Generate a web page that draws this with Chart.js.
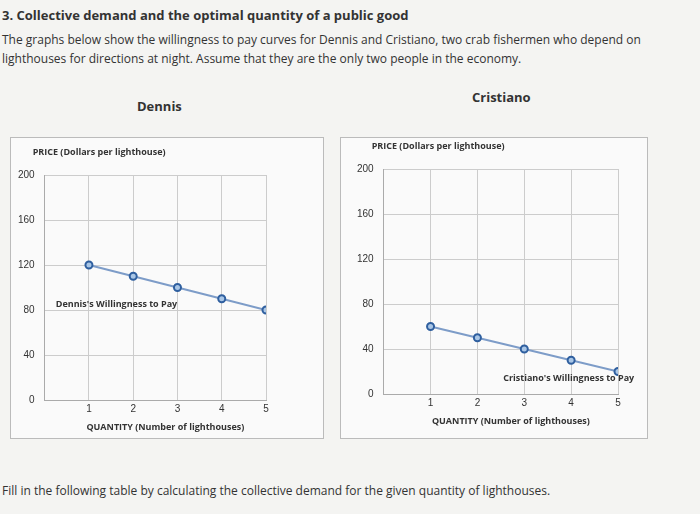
<!DOCTYPE html>
<html><head><meta charset="utf-8">
<script src="https://cdn.jsdelivr.net/npm/chart.js@4"></script>
<style>
body{margin:0;width:700px;height:514px;background:#f4f4f2;font-family:"Open Sans",sans-serif;color:#333;position:relative;overflow:hidden}
.t{position:absolute;white-space:nowrap}
.box{position:absolute;border:1px solid #bbb;background:#fafafa}
canvas{position:absolute}
</style></head><body>
<div class="t" style="left:2px;top:6px;font-size:13px;font-weight:bold">3. Collective demand and the optimal quantity of a public good</div>
<div class="t" style="left:2px;top:30px;font-size:12px;line-height:19px">The graphs below show the willingness to pay curves for Dennis and Cristiano, two crab fishermen who depend on<br>lighthouses for directions at night. Assume that they are the only two people in the economy.</div>
<div class="t" style="left:137px;top:97px;font-size:13px;font-weight:bold">Dennis</div>
<div class="t" style="left:472px;top:88px;font-size:13px;font-weight:bold">Cristiano</div>
<div class="box" style="left:10px;top:137px;width:312px;height:300px"></div>
<div class="box" style="left:340px;top:137px;width:306px;height:300px"></div>
<canvas id="cD" style="left:0px;top:138px" width="322" height="299"></canvas>
<canvas id="cC" style="left:333px;top:138px" width="313" height="299"></canvas>
<div class="t" style="left:2px;top:482px;font-size:12px">Fill in the following table by calculating the collective demand for the given quantity of lighthouses.</div>
<script>
const quantities = [1, 2, 3, 4, 5];
const dennisWTP = [120, 110, 100, 90, 80];
const cristianoWTP = [60, 50, 40, 30, 20];
const priceTicks = [0, 40, 80, 120, 160, 200];

function makeChart(id, values, label, labelAt, pad) {
  const notes = {
    id: 'notes',
    afterDraw(c) {
      const ctx = c.ctx, x = c.scales.x, y = c.scales.y;
      ctx.save();
      ctx.fillStyle = '#333';
      ctx.font = 'bold 9px "Open Sans"';
      ctx.textAlign = 'left';
      ctx.fillText('PRICE (Dollars per lighthouse)', x.left - 12, y.top - 20);
      ctx.textAlign = 'center';
      ctx.fillText('QUANTITY (Number of lighthouses)', (x.left + x.right) / 2 + 10, y.bottom + 30);
      ctx.textAlign = 'left';
      ctx.fillText(label, x.getPixelForValue(labelAt[0]), y.getPixelForValue(labelAt[1]));
      ctx.restore();
    }
  };
  new Chart(document.getElementById(id), {
    type: 'line',
    data: { datasets: [{
      data: quantities.map((q, i) => ({ x: q, y: values[i] })),
      borderColor: '#7d9cc8', borderWidth: 2,
      pointBackgroundColor: '#a9c6e6', pointBorderColor: '#2f5f9f',
      pointBorderWidth: 2, pointRadius: 3.5
    }] },
    options: {
      responsive: false, animation: false,
      layout: { padding: pad },
      plugins: { legend: { display: false }, tooltip: { enabled: false } },
      scales: {
        x: { type: 'linear', min: 0, max: 5,
          ticks: { stepSize: 1, color: '#333', font: { size: 10 }, callback: v => v === 0 ? '' : v },
          grid: { color: '#ccc', drawTicks: false }, border: { color: '#aaa' } },
        y: { min: 0, max: 200, afterBuildTicks: s => { s.ticks = priceTicks.map(v => ({ value: v })); },
          ticks: { color: '#333', font: { size: 10 }, padding: 10 },
          grid: { color: '#ccc', drawTicks: false }, border: { color: '#aaa' } }
      }
    },
    plugins: [notes]
  });
}
makeChart('cD', dennisWTP, "Dennis's Willingness to Pay", [0.25, 83], { left: 8, right: 56, top: 37, bottom: 19 });
makeChart('cC', cristianoWTP, "Cristiano's Willingness to Pay", [2.55, 12], { left: 14, right: 28, top: 31, bottom: 25 });
</script>
</body></html>
